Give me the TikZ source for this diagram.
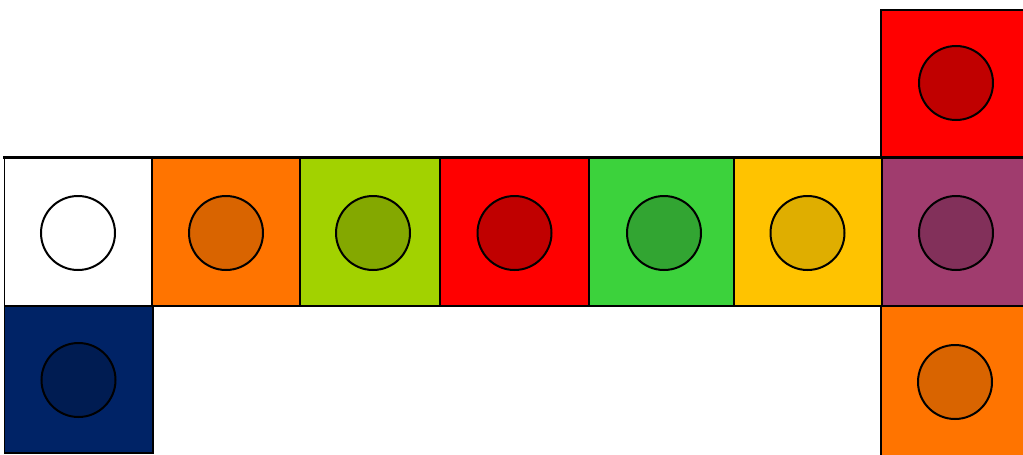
\documentclass[tikz,border=0pt]{standalone}
\begin{document}
\begin{tikzpicture}[x=1pt,y=-1pt,
  sq/.style={draw=black,line width=1.8pt},
  dot/.style={circle,draw=black,line width=2pt,minimum size=74pt,inner sep=0pt}]
\useasboundingbox[fill=white] (0,0) rectangle (1023,455);
\definecolor{cOr}{HTML}{FF7400}\definecolor{cOrD}{HTML}{D96400}
\definecolor{cLi}{HTML}{A2D200}\definecolor{cLiD}{HTML}{84A800}
\definecolor{cRe}{HTML}{FF0000}\definecolor{cReD}{HTML}{C00000}
\definecolor{cGr}{HTML}{3CD23C}\definecolor{cGrD}{HTML}{32A532}
\definecolor{cYe}{HTML}{FFC300}\definecolor{cYeD}{HTML}{DFAE00}
\definecolor{cPu}{HTML}{A03C6E}\definecolor{cPuD}{HTML}{82305A}
\definecolor{cNa}{HTML}{002366}\definecolor{cNaD}{HTML}{001C52}
% squares
\path[sq,fill=white] (4.5,158) rectangle (152,306);
\path[sq,fill=cOr] (152,158) rectangle (300,306);
\path[sq,fill=cLi] (300,158) rectangle (440,306);
\path[sq,fill=cRe] (440,158) rectangle (589,306);
\path[sq,fill=cGr] (589,158) rectangle (734,306);
\path[sq,fill=cYe] (734,158) rectangle (882,306);
\path[sq,fill=cPu] (882,158) rectangle (1030,306);
\path[sq,fill=cRe] (881,10) rectangle (1030,158);
\path[sq,fill=cOr] (881,306) rectangle (1030,460);
\path[sq,fill=cNa] (4.5,306) rectangle (153,453);
\draw[line width=2.6pt] (3,157.5) -- (1023,157.5);
% circles
\node[dot,fill=white] (c1) at (78,233) {};
\node[dot,fill=cOrD] (c2) at (226,233) {};
\node[dot,fill=cLiD] (c3) at (373,233) {};
\node[dot,fill=cReD] (c4) at (514.5,233) {};
\node[dot,fill=cGrD] (c5) at (664,233) {};
\node[dot,fill=cYeD] (c6) at (807.5,233) {};
\node[dot,fill=cPuD] (c7) at (956,233) {};
\node[dot,fill=cReD] (c8) at (956,83) {};
\node[dot,fill=cOrD] (c9) at (955,382) {};
\node[dot,fill=cNaD] (c10) at (78.5,380) {};
\end{tikzpicture}
\end{document}
